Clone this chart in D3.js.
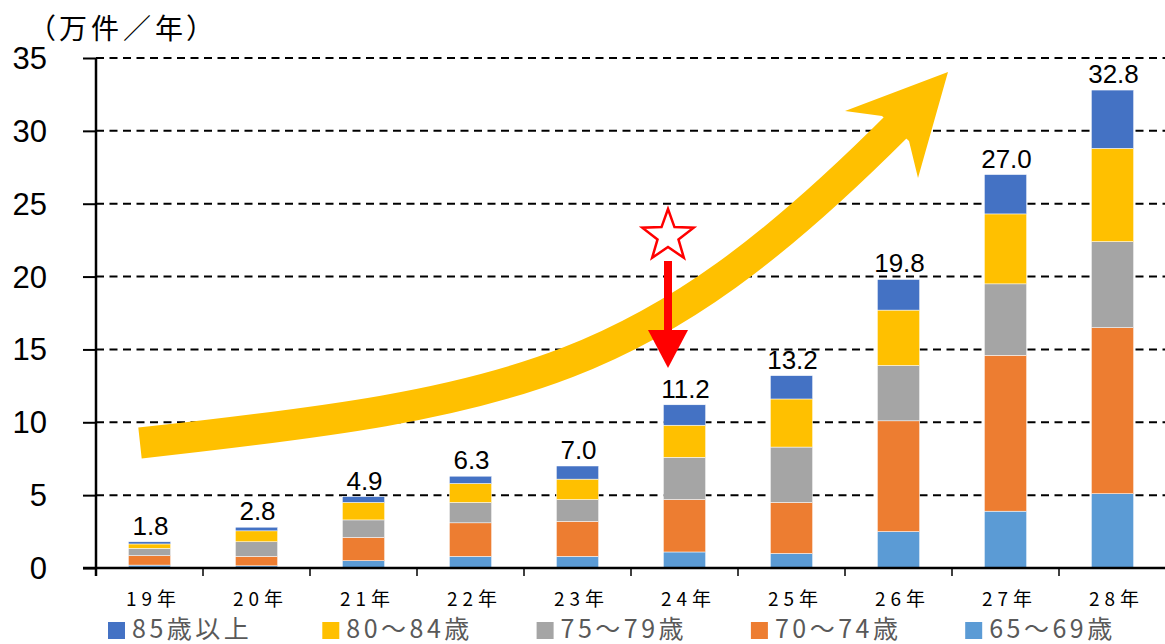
<!DOCTYPE html>
<html lang="ja">
<head>
<meta charset="utf-8">
<title>件数の推移</title>
<script src="https://cdn.jsdelivr.net/npm/d3@7"></script>
<style>
    html, body { margin: 0; padding: 0; background: #ffffff; }
    svg { display: block; }
    .jp { font-family: "Noto Sans CJK JP", "Noto Sans", sans-serif; }
    .num { font-family: "Liberation Sans", Arial, sans-serif; }
</style>
</head>
<body>
<svg id="chart" width="1165" height="644"></svg>
<script>
// Données (万件／年)
const categories = ['19年', '20年', '21年', '22年', '23年', '24年', '25年', '26年', '27年', '28年'];
const age65to69 = [0.2, 0.15, 0.5, 0.8, 0.8, 1.1, 1.0, 2.5, 3.9, 5.1];
const age70to74 = [0.65, 0.65, 1.6, 2.3, 2.4, 3.6, 3.5, 7.6, 10.7, 11.4];
const age75to79 = [0.5, 1.0, 1.2, 1.4, 1.5, 2.9, 3.8, 3.8, 4.9, 5.9];
const age80to84 = [0.3, 0.75, 1.2, 1.3, 1.4, 2.2, 3.3, 3.8, 4.8, 6.4];
const age85plus = [0.15, 0.25, 0.4, 0.5, 0.9, 1.4, 1.6, 2.1, 2.7, 4.0];
const yTicks = [0, 5, 10, 15, 20, 25, 30, 35];

// Séries dans l'ordre d'empilement (du bas vers le haut)
const seriesKeys = ['65～69歳', '70～74歳', '75～79歳', '80～84歳', '85歳以上'];
const seriesValues = [age65to69, age70to74, age75to79, age80to84, age85plus];
// Ordre de la légende
const legendKeys = ['85歳以上', '80～84歳', '75～79歳', '70～74歳', '65～69歳'];

const config = {
    colors: {
        '85歳以上': '#4472C4',
        '80～84歳': '#FFC000',
        '75～79歳': '#A5A5A5',
        '70～74歳': '#ED7D31',
        '65～69歳': '#5B9BD5'
    },
    plot: { left: 96, right: 1166, top: 58, bottom: 568 }
};

const svg = d3.select('#chart');

const rows = categories.map((c, i) => {
    const row = { cat: c };
    seriesKeys.forEach((k, j) => { row[k] = seriesValues[j][i]; });
    return row;
});

const x = d3.scaleBand()
    .domain(categories)
    .range([config.plot.left, config.plot.right])
    .padding(0);

const y = d3.scaleLinear()
    .domain([0, 35])
    .range([config.plot.bottom, config.plot.top]);

const barWidth = x.step() * 0.395;

// Quadrillage
svg.append('g')
    .selectAll('line')
    .data(yTicks.filter(d => d > 0))
    .join('line')
    .attr('x1', config.plot.left)
    .attr('x2', 1165)
    .attr('y1', d => y(d))
    .attr('y2', d => y(d))
    .attr('stroke', '#000')
    .attr('stroke-width', 2)
    .attr('stroke-dasharray', '8,5.5');

// Axe Y (ligne + graduations)
const yAxis = d3.axisLeft(y).tickValues(yTicks).tickSize(13).tickFormat(d => d);
const gy = svg.append('g')
    .attr('transform', `translate(${config.plot.left},0)`)
    .call(yAxis);
gy.select('.domain').remove();
gy.selectAll('.tick line').attr('stroke', '#000').attr('stroke-width', 2);
gy.selectAll('.tick text')
    .attr('class', 'num')
    .attr('x', -49)
    .attr('dy', '0.34em')
    .attr('fill', '#000')
    .style('font-size', '31px');

svg.append('line')
    .attr('x1', config.plot.left).attr('x2', config.plot.left)
    .attr('y1', config.plot.top).attr('y2', config.plot.bottom + 8)
    .attr('stroke', '#000').attr('stroke-width', 2.5);

// Barres empilées
const stack = d3.stack().keys(seriesKeys);
const stacked = stack(rows);

svg.append('g')
    .selectAll('g')
    .data(stacked)
    .join('g')
    .attr('fill', d => config.colors[d.key])
    .selectAll('rect')
    .data(d => d)
    .join('rect')
    .attr('x', d => x(d.data.cat) + (x.step() - barWidth) / 2)
    .attr('width', barWidth)
    .attr('y', d => y(d[1]))
    .attr('height', d => y(d[0]) - y(d[1]))
    .attr('stroke', '#ffffff')
    .attr('stroke-width', 0.5);

// Axe X
svg.append('line')
    .attr('x1', 83).attr('x2', 1165)
    .attr('y1', config.plot.bottom).attr('y2', config.plot.bottom)
    .attr('stroke', '#000').attr('stroke-width', 2.5);

svg.append('g')
    .selectAll('line')
    .data(categories.slice(1))
    .join('line')
    .attr('x1', d => x(d)).attr('x2', d => x(d))
    .attr('y1', config.plot.bottom).attr('y2', config.plot.bottom + 8)
    .attr('stroke', '#000').attr('stroke-width', 1.5);

svg.append('g')
    .selectAll('text')
    .data(categories)
    .join('text')
    .attr('class', 'jp')
    .attr('x', d => x(d) + x.step() / 2 + 4)
    .attr('y', 606)
    .attr('text-anchor', 'middle')
    .style('font-size', '19px')
    .style('letter-spacing', '5px')
    .attr('fill', '#000')
    .text(d => d);

// Flèche jaune (annotation) : courbe de Bézier + pointe
const arrowPath = d3.path();
arrowPath.moveTo(140, 443);
arrowPath.bezierCurveTo(520, 401, 647, 376, 897, 126);
svg.append('path')
    .attr('d', arrowPath.toString())
    .attr('fill', 'none')
    .attr('stroke', '#FFC000')
    .attr('stroke-width', 31)
    .attr('stroke-linecap', 'butt');

svg.append('polygon')
    .attr('points', [[882, 116], [845, 111], [948, 72], [918, 178], [909, 141]].join(' '))
    .attr('fill', '#FFC000');

// Étoile + flèche rouge
const star = d3.range(10).map(i => {
    const r = i % 2 === 0 ? 27 : 11;
    const a = -Math.PI / 2 + i * Math.PI / 5;
    return [668 + r * Math.cos(a), 236 + r * Math.sin(a)];
});
svg.append('polygon')
    .attr('points', star.join(' '))
    .attr('fill', '#fff')
    .attr('stroke', '#FF0000')
    .attr('stroke-width', 2.5);

svg.append('rect')
    .attr('x', 664).attr('y', 261).attr('width', 8).attr('height', 72)
    .attr('fill', '#FF0000');
svg.append('polygon')
    .attr('points', [[648, 330], [688, 330], [668, 368]].join(' '))
    .attr('fill', '#FF0000');

// Totaux au-dessus des barres
svg.append('g')
    .selectAll('text')
    .data(rows)
    .join('text')
    .attr('class', 'num')
    .attr('x', d => x(d.cat) + x.step() / 2 + 1)
    .attr('y', d => y(d3.sum(seriesKeys, k => d[k])) - 7)
    .attr('text-anchor', 'middle')
    .style('font-size', '26px')
    .attr('fill', '#000')
    .text(d => d3.sum(seriesKeys, k => d[k]).toFixed(1));

// Unité
svg.append('text')
    .attr('class', 'jp')
    .attr('x', 41)
    .attr('y', 39)
    .style('font-size', '28px')
    .style('letter-spacing', '4px')
    .style('font-feature-settings', '"palt"')
    .attr('fill', '#000')
    .text('（万件／年）');

// Légende
const legend = svg.append('g')
    .selectAll('g')
    .data(legendKeys)
    .join('g')
    .attr('transform', (d, i) => `translate(${108 + i * 214.3},622)`);

legend.append('rect')
    .attr('width', 17).attr('height', 17)
    .attr('fill', d => config.colors[d]);

legend.append('text')
    .attr('class', 'jp')
    .attr('x', 24)
    .attr('y', 16)
    .style('font-size', '25px')
    .style('letter-spacing', '3.5px')
    .attr('fill', '#595959')
    .text(d => d);
</script>
</body>
</html>
